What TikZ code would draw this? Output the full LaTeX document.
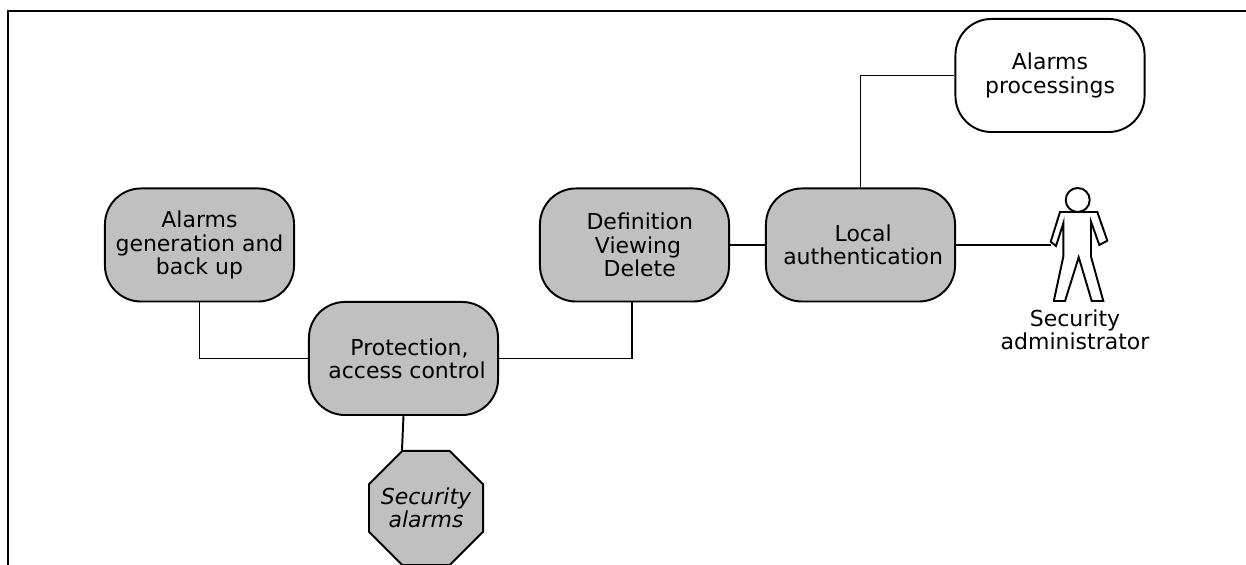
\documentclass[tikz,border=0pt]{standalone}
\usepackage{fontspec}
\setmainfont{DejaVu Sans}
\usetikzlibrary{shapes.geometric}
\definecolor{boxgray}{HTML}{C0C0C0}
\newcommand{\nudge}[1]{\hspace*{#1pt}}
\tikzset{
  every path/.style={line width=0.55pt},
  lbl/.style={font=\fontsize{6.25}{6.6}\selectfont, align=center},
  task/.style={lbl, draw, fill=boxgray, rounded corners=0.36cm, minimum width=1.89cm, minimum height=1.13cm, inner sep=0pt},
  taskwhite/.style={task, fill=white},
  stopsign/.style={draw, fill=boxgray, regular polygon, regular polygon sides=8, minimum size=1.234cm, inner sep=0pt}
}
\begin{document}
\begin{tikzpicture}[x=0.01cm, y=-0.01cm]
      \useasboundingbox (0,0) rectangle (1246,565);
      % frame
      \draw[line width=0.75pt] (8,565) -- (8,11) -- (1246,11);
      % boxes
      \node[task] (gen) at (199.5,245) {Alarms\\generation and\\back up};
      \node[task] (prot) at (403.5,358.5) {\nudge{3.4}Protection,\\\nudge{2}access control};
      \node[task] (defn) at (634.5,245) {\nudge{3}Definition\\\nudge{2}Viewing\\\nudge{3}Delete};
      \node[task] (local) at (860.5,245) {\nudge{1.5}Local\\\nudge{1.5}authentication};
      \node[taskwhite] (proc) at (1050,75.5) {Alarms\\processings};
      \node[stopsign, label={[lbl]center:{\itshape Security\\\itshape alarms}}] (stop) at (426,508) {};
      % the person
      \draw (1077.7,200) circle (12);
      \draw (1070,212) -- (1060,212) -- (1050.7,241.7) -- (1056,246) -- (1063.3,223.3)
        -- (1063.3,256.7) -- (1054,300) -- (1054,301) -- (1065,301) -- (1078.7,257.3)
        -- (1091.7,301) -- (1103.3,301) -- (1091,256.7) -- (1091,221.7) -- (1099.3,245)
        -- (1107.3,240.7) -- (1097.3,212) -- (1085,212) -- cycle;
      \coordinate (hand) at (1051,245);
      \node[lbl] (admin) at (1075,330) {Security\\administrator};
      % connectors
      \draw (gen.south) |- (prot.west);
      \draw (prot.east) -| ([xshift=-0.025cm]defn.south);
      \draw (prot.south) -- (stop.corner 2);
      \draw (defn.east) -- (local.west);
      \draw (local.north) |- (proc.west);
      \draw (local.east) -- (hand);
    \end{tikzpicture}
\end{document}
